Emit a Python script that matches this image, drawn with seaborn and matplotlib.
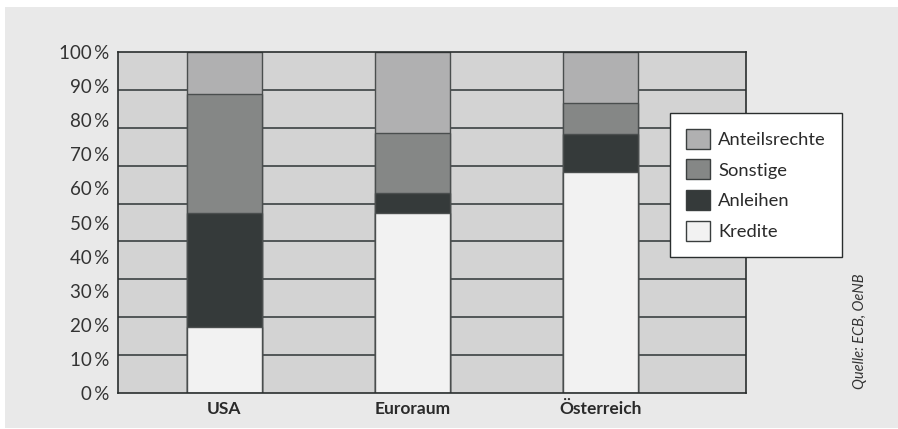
import matplotlib
matplotlib.use("Agg")
import matplotlib.pyplot as plt
from matplotlib.patches import Rectangle, Patch
import seaborn as sns
import pandas as pd
import numpy as np

# Data (percent shares)
categories = ["USA", "Euroraum", "Österreich"]
kredite = [19.3, 52.7, 64.8]
anleihen = [33.4, 6.0, 11.1]
sonstige = [35.0, 17.6, 9.2]
anteilsrechte = [12.3, 23.7, 14.9]
series_names = ["Anteilsrechte", "Sonstige", "Anleihen", "Kredite"]
series_colors = ["#b0b0b1", "#858786", "#353a3a", "#f2f2f2"]
ytick_values = [0, 10, 20, 30, 40, 50, 60, 70, 80, 90, 100]
ytick_labels = [f"{v}\u2009%" for v in ytick_values]
source_text = "Quelle: ECB, OeNB"

sns.set_theme(style="white")
plt.rcParams["font.family"] = ["Lato", "DejaVu Sans"]

W, H = 898, 429
fig = plt.figure(figsize=(W / 100, H / 100), dpi=100, facecolor="white")
fig.patches.append(Rectangle((5 / W, 1 / H), (W - 5) / W, (428 - 7) / H,
                             transform=fig.transFigure, facecolor="#e9e9e9",
                             edgecolor="none", zorder=-10))

ax = fig.add_axes([118 / W, 1 - 392.7 / H, (746 - 118) / W, (392.7 - 52.3) / H])
ax.set_zorder(1)
ax.set_facecolor("#d3d3d3")

df = pd.DataFrame({
    "cat": categories,
    "Kredite": kredite,
    "Anleihen": anleihen,
    "Sonstige": sonstige,
    "Anteilsrechte": anteilsrechte,
})
df["c_Kredite"] = df["Kredite"]
df["c_Anleihen"] = df["c_Kredite"] + df["Anleihen"]
df["c_Sonstige"] = df["c_Anleihen"] + df["Sonstige"]
df["c_Anteilsrechte"] = df["c_Sonstige"] + df["Anteilsrechte"]

# gridlines (9 equal intervals as in the original)
for k in range(1, 9):
    ax.axhline(k * 100 / 9, color="#474c4d", lw=1.3, zorder=0.5)

for name, col in zip(series_names, series_colors):
    sns.barplot(data=df, x="cat", y="c_" + name, color=col, width=0.4,
                edgecolor="#4a4e4e", linewidth=1.0, saturation=1, ax=ax,
                zorder=2)

ax.set_xlim(-0.566, 2.774)
ax.set_ylim(0, 100)
ax.set_yticks(ytick_values)
ax.set_yticklabels(ytick_labels, fontsize=13.5, color="#333333")
ax.set_xticks(range(len(categories)))
ax.set_xticklabels(categories, fontsize=12.5, fontweight="bold", color="#2a2a2a")
ax.tick_params(axis="both", length=0)
ax.tick_params(axis="y", pad=6)
ax.tick_params(axis="x", pad=6)
ax.set_xlabel("")
ax.set_ylabel("")
for s in ax.spines.values():
    s.set_visible(True)
    s.set_color("#2a2e2e")
    s.set_linewidth(1.2)

handles = [Patch(facecolor=c, edgecolor="#3a3e3e", linewidth=1.0, label=n)
           for n, c in zip(series_names, series_colors)]
leg = ax.legend(handles=handles, loc="upper left",
                bbox_to_anchor=((670 - 118) / (746 - 118), 1 - (112.7 - 52.3) / (392.7 - 52.3)),
                frameon=True, fancybox=False, fontsize=13.2, handlelength=1.3,
                handleheight=1.3, handletextpad=0.45, labelspacing=0.58,
                borderpad=0.88, borderaxespad=0)
leg.get_frame().set_facecolor("white")
leg.get_frame().set_edgecolor("#2a2e2e")
leg.get_frame().set_linewidth(1.0)
leg.get_frame().set_alpha(1)
for t in leg.get_texts():
    t.set_color("#2a2a2a")

fig.text(860 / W, 1 - 331 / H, source_text, rotation=90, style="italic",
         fontsize=10.5, color="#333333", ha="center", va="center")

fig.savefig("out.png", dpi=100, facecolor=fig.get_facecolor())
